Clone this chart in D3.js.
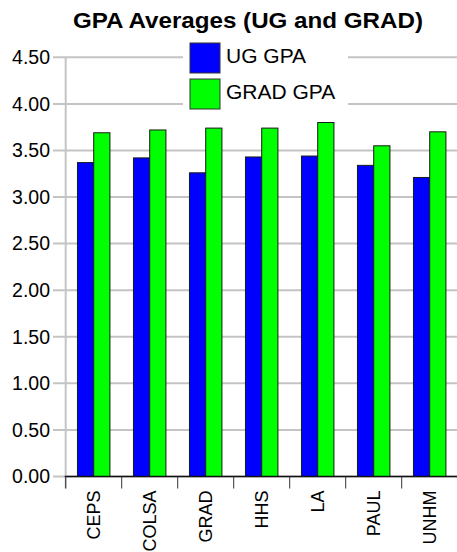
<!DOCTYPE html>
<html>
<head>
<meta charset="utf-8">
<script src="https://cdn.jsdelivr.net/npm/d3@7"></script>
<style>
  body { margin: 0; background: #fff; }
  text { font-family: "Liberation Sans", Arial, sans-serif; fill: #000; }
</style>
</head>
<body>
<svg id="chart" width="457" height="552"></svg>
<script>
// data
const colleges = ["CEPS", "COLSA", "GRAD", "HHS", "LA", "PAUL", "UNHM"];
const ugGpa = [3.37, 3.42, 3.26, 3.43, 3.44, 3.34, 3.21];
const gradGpa = [3.69, 3.72, 3.74, 3.74, 3.80, 3.55, 3.70];
const yTicks = [0, 0.5, 1, 1.5, 2, 2.5, 3, 3.5, 4, 4.5];
const seriesNames = ["UG GPA", "GRAD GPA"];
const seriesColors = ["#0000ff", "#00ff00"];

const svg = d3.select("#chart");
const plotLeft = 65.7, plotRight = 457.7, plotTop = 57.3, plotBottom = 476.5;

const y = d3.scaleLinear().domain([0, 4.5]).range([plotBottom, plotTop]);
const x = d3.scaleBand().domain(colleges).range([plotLeft, plotRight]).padding(0);
const xInner = d3.scaleBand().domain([0, 1])
    .range([x.bandwidth() * 0.21, x.bandwidth() * 0.79]).padding(0);

// gridlines + y labels
const yAxis = svg.append("g");
yAxis.selectAll("line.grid")
    .data(yTicks)
    .join("line")
    .attr("class", "grid")
    .attr("x1", 53).attr("x2", 457)
    .attr("y1", d => y(d)).attr("y2", d => y(d))
    .style("stroke", "#c4c4c4")
    .style("stroke-width", 2);

yAxis.append("line")
    .attr("x1", plotLeft).attr("x2", plotLeft)
    .attr("y1", plotTop).attr("y2", plotBottom + 12)
    .style("stroke", "#c4c4c4")
    .style("stroke-width", 2);

yAxis.selectAll("text")
    .data(yTicks)
    .join("text")
    .attr("x", 50)
    .attr("y", d => y(d))
    .attr("dy", "0.35em")
    .attr("text-anchor", "end")
    .style("font-size", "19.5px")
    .text(d => d3.format(".2f")(d));

// bars
const groups = svg.append("g").selectAll("g")
    .data(colleges)
    .join("g")
    .attr("transform", d => `translate(${x(d)},0)`);

groups.selectAll("rect")
    .data((d, i) => [ugGpa[i], gradGpa[i]])
    .join("rect")
    .attr("x", (d, j) => xInner(j))
    .attr("width", xInner.bandwidth())
    .attr("y", d => y(d))
    .attr("height", d => plotBottom - y(d))
    .style("fill", (d, j) => seriesColors[j])
    .style("stroke", "#1a1a1a")
    .style("stroke-width", 1);

// x axis
const xAxis = svg.append("g");
xAxis.append("line")
    .attr("x1", plotLeft - 1).attr("x2", 457)
    .attr("y1", plotBottom).attr("y2", plotBottom)
    .style("stroke", "#111")
    .style("stroke-width", 1.5);

xAxis.selectAll("line.tick")
    .data(colleges)
    .join("line")
    .attr("class", "tick")
    .attr("x1", d => x(d)).attr("x2", d => x(d))
    .attr("y1", plotBottom).attr("y2", plotBottom + 12)
    .style("stroke", "#333")
    .style("stroke-width", 1);

xAxis.selectAll("text")
    .data(colleges)
    .join("text")
    .attr("transform", d => `translate(${x(d) + x.bandwidth() / 2 + 6.5},${plotBottom + 14}) rotate(-90)`)
    .attr("text-anchor", "end")
    .style("font-size", "18px")
    .text(d => d);

// legend
const legend = svg.append("g");
legend.append("rect")
    .attr("x", 183).attr("y", 38)
    .attr("width", 165).attr("height", 74)
    .style("fill", "#fff");

const items = legend.selectAll("g")
    .data(seriesNames)
    .join("g")
    .attr("transform", (d, i) => `translate(190,${43 + i * 36})`);

items.append("rect")
    .attr("width", 30).attr("height", 30)
    .style("fill", (d, i) => seriesColors[i])
    .style("stroke", "#333")
    .style("stroke-width", 1);

items.append("text")
    .attr("x", 36).attr("y", 20)
    .style("font-size", "21px")
    .text(d => d);

// title
svg.append("text")
    .attr("x", 248).attr("y", 27.5)
    .attr("text-anchor", "middle")
    .attr("textLength", 350)
    .attr("lengthAdjust", "spacingAndGlyphs")
    .style("font-size", "22px")
    .style("font-weight", "bold")
    .text("GPA Averages (UG and GRAD)");
</script>
</body>
</html>
